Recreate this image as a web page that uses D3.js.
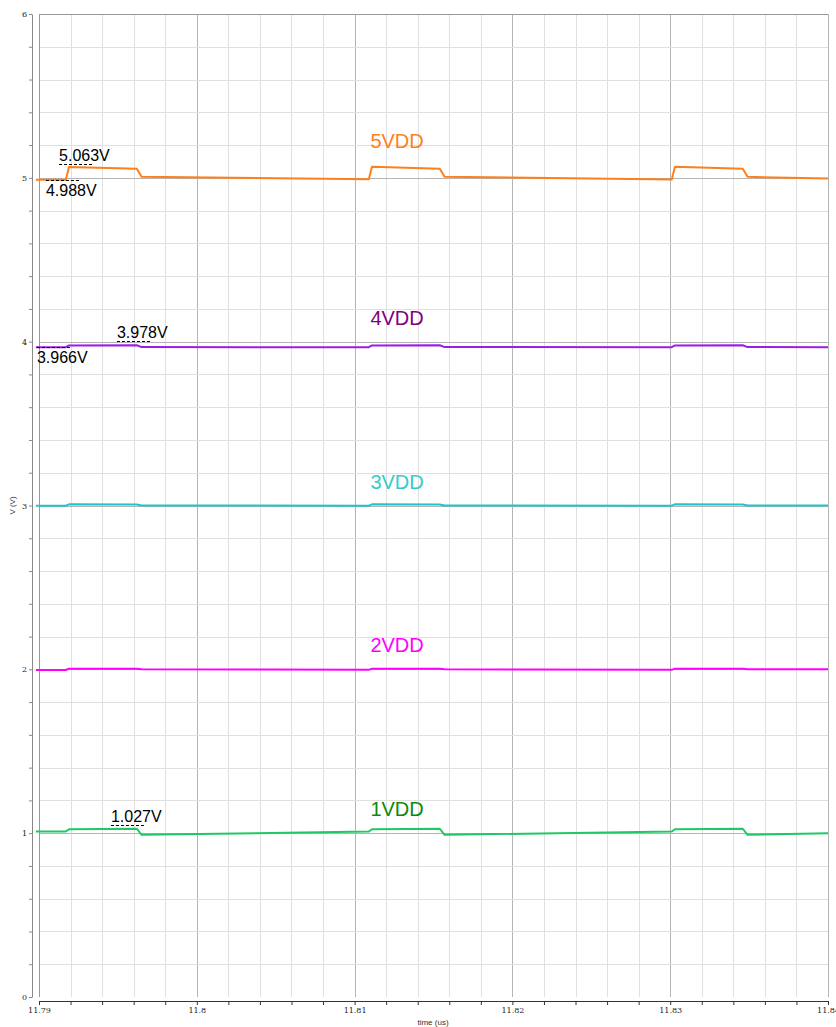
<!DOCTYPE html>
<html>
<head>
<meta charset="utf-8">
<script src="https://cdn.jsdelivr.net/npm/d3@7"></script>
<style>
  body { margin: 0; background: #fff; }
  #chart text { font-family: "Liberation Sans", Arial, sans-serif; }
</style>
</head>
<body>
<div id="chart"></div>
<script>
// Breakpoints of the waveforms (time in us)
const times = [11.7898, 11.7917, 11.7919, 11.7962, 11.7965, 11.8109, 11.8111, 11.8154, 11.8157, 11.8301, 11.8303, 11.8346, 11.8349, 11.84];

// Voltages at each breakpoint
const v5 = [4.988, 4.989, 5.066, 5.056, 5.006, 4.991, 5.068, 5.056, 5.006, 4.990, 5.068, 5.055, 5.006, 4.996];
const v4 = [3.966, 3.966, 3.977, 3.978, 3.967, 3.966, 3.977, 3.978, 3.967, 3.966, 3.977, 3.978, 3.967, 3.966];
const v3 = [2.999, 2.999, 3.007, 3.006, 3.000, 2.999, 3.007, 3.006, 3.000, 2.999, 3.007, 3.006, 3.000, 3.000];
const v2 = [1.996, 1.996, 2.004, 2.004, 2.000, 1.997, 2.004, 2.004, 2.000, 1.997, 2.004, 2.004, 2.000, 2.000];
const v1 = [1.010, 1.010, 1.024, 1.027, 0.990, 1.010, 1.024, 1.027, 0.990, 1.010, 1.024, 1.027, 0.990, 1.000];

const seriesNames = ["5VDD", "4VDD", "3VDD", "2VDD", "1VDD"];
const seriesValues = [v5, v4, v3, v2, v1];
const seriesNominal = [5, 4, 3, 2, 1];

// Marker readouts
const markLabels = ["5.063V", "4.988V", "3.978V", "3.966V", "1.027V"];
const markTimes = [11.79127, 11.79044, 11.79494, 11.78987, 11.79456];
const markValues = [5.063, 4.988, 3.978, 3.966, 1.027];
const markSides = ["above", "below", "above", "below", "above"];

// Styles
const lineColors = ["#ff7f1a", "#9b1ee8", "#22c4c8", "#ff00ff", "#1ec864"];
const labelColors = ["#ff7f1a", "#800080", "#33cccc", "#ff00ff", "#0b8a0b"];

// Layout
const W = 836, H = 1027;
const x = d3.scaleLinear().domain([11.79, 11.84]).range([39, 828]);
const y = d3.scaleLinear().domain([0, 6]).range([997, 14]);

const svg = d3.select("#chart").append("svg")
              .attr("width", W)
              .attr("height", H);

const isMajorX = d => Math.abs(d * 100 - Math.round(d * 100)) < 1e-6;
const isMajorY = d => Math.abs(d - Math.round(d)) < 1e-6;

// grid
const xTicks = x.ticks(25);
const yTicks = y.ticks(30).filter(d => d > 0);

svg.append("g").selectAll("line")
   .data(xTicks.filter(d => d > 11.79))
   .enter()
   .append("line")
   .attr("x1", d => Math.round(x(d)) + 0.5)
   .attr("x2", d => Math.round(x(d)) + 0.5)
   .attr("y1", y(6))
   .attr("y2", y(0))
   .attr("stroke", d => isMajorX(d) ? "#b4b4b4" : "#e0e0e0")
   .attr("stroke-width", 1);

svg.append("g").selectAll("line")
   .data(yTicks)
   .enter()
   .append("line")
   .attr("x1", x(11.79))
   .attr("x2", x(11.84))
   .attr("y1", d => Math.round(y(d)) + 0.5)
   .attr("y2", d => Math.round(y(d)) + 0.5)
   .attr("stroke", d => isMajorY(d) ? "#b4b4b4" : "#e0e0e0")
   .attr("stroke-width", 1);

// frame
svg.append("line")
   .attr("x1", x(11.79)).attr("x2", x(11.84))
   .attr("y1", y(6) + 0.5).attr("y2", y(6) + 0.5)
   .attr("stroke", "#999");
svg.append("line")
   .attr("x1", Math.round(x(11.79)) + 0.5).attr("x2", Math.round(x(11.79)) + 0.5)
   .attr("y1", y(6)).attr("y2", y(0))
   .attr("stroke", "#999");

// x axis
const xAxis = d3.axisBottom(x)
                .tickValues(xTicks)
                .tickSize(4)
                .tickSizeOuter(0)
                .tickFormat(d => isMajorX(d) ? String(+d.toFixed(2)) : "");
const gx = svg.append("g")
   .attr("transform", "translate(0,1001)")
   .call(xAxis);
gx.selectAll("path, line").attr("stroke", "#333");
gx.selectAll("text")
  .style("font-family", "'DejaVu Serif', serif")
  .style("font-size", "8px")
  .attr("fill", "#222")
  .attr("y", 6);

svg.append("text")
   .text("time (us)")
   .attr("x", 433)
   .attr("y", 1025)
   .attr("text-anchor", "middle")
   .style("font-size", "8px")
   .attr("fill", "#333");

// y axis
const yAxis = d3.axisLeft(y)
                .tickValues(y.ticks(30))
                .tickSize(3)
                .tickSizeOuter(0)
                .tickFormat(d => isMajorY(d) ? d : "");
const gy = svg.append("g")
   .attr("transform", "translate(32,0)")
   .call(yAxis);
gy.selectAll("path, line").attr("stroke", "#888");
gy.selectAll("text")
  .style("font-family", "'DejaVu Serif', serif")
  .style("font-size", "8px")
  .attr("fill", "#222")
  .attr("x", -5);

svg.append("text")
   .text("V (V)")
   .attr("transform", "translate(15," + y(3) + ") rotate(-90)")
   .attr("text-anchor", "middle")
   .style("font-size", "8px")
   .attr("fill", "#333");

// traces
const line = d3.line()
               .x(d => x(d[0]))
               .y(d => y(d[1]));

seriesValues.forEach((vals, i) => {
    svg.append("path")
       .datum(d3.zip(times, vals))
       .attr("d", line)
       .attr("fill", "none")
       .attr("stroke", lineColors[i])
       .attr("stroke-width", 2)
       .attr("stroke-linejoin", "round");
});

// series labels
svg.selectAll(".series-label")
   .data(seriesNames)
   .enter()
   .append("text")
   .attr("class", "series-label")
   .text(d => d)
   .attr("x", x(11.8110))
   .attr("y", (d, i) => y(seriesNominal[i]) - (i === 0 ? 30 : 17))
   .style("font-size", "20px")
   .attr("fill", (d, i) => labelColors[i]);

// marker readouts
markLabels.forEach((label, i) => {
    const above = markSides[i] === "above";
    const my = Math.round(y(markValues[i]) - (above ? 4 : 0)) + 0.5;
    const mx = x(markTimes[i]);
    svg.append("line")
       .attr("x1", mx).attr("x2", mx + 35)
       .attr("y1", my).attr("y2", my)
       .attr("stroke", "#000")
       .attr("stroke-dasharray", "3,2");
    svg.append("text")
       .text(label)
       .attr("x", mx)
       .attr("y", above ? my - 4 : my + 15)
       .style("font-size", "16px")
       .attr("fill", "#000");
});
</script>
</body>
</html>
